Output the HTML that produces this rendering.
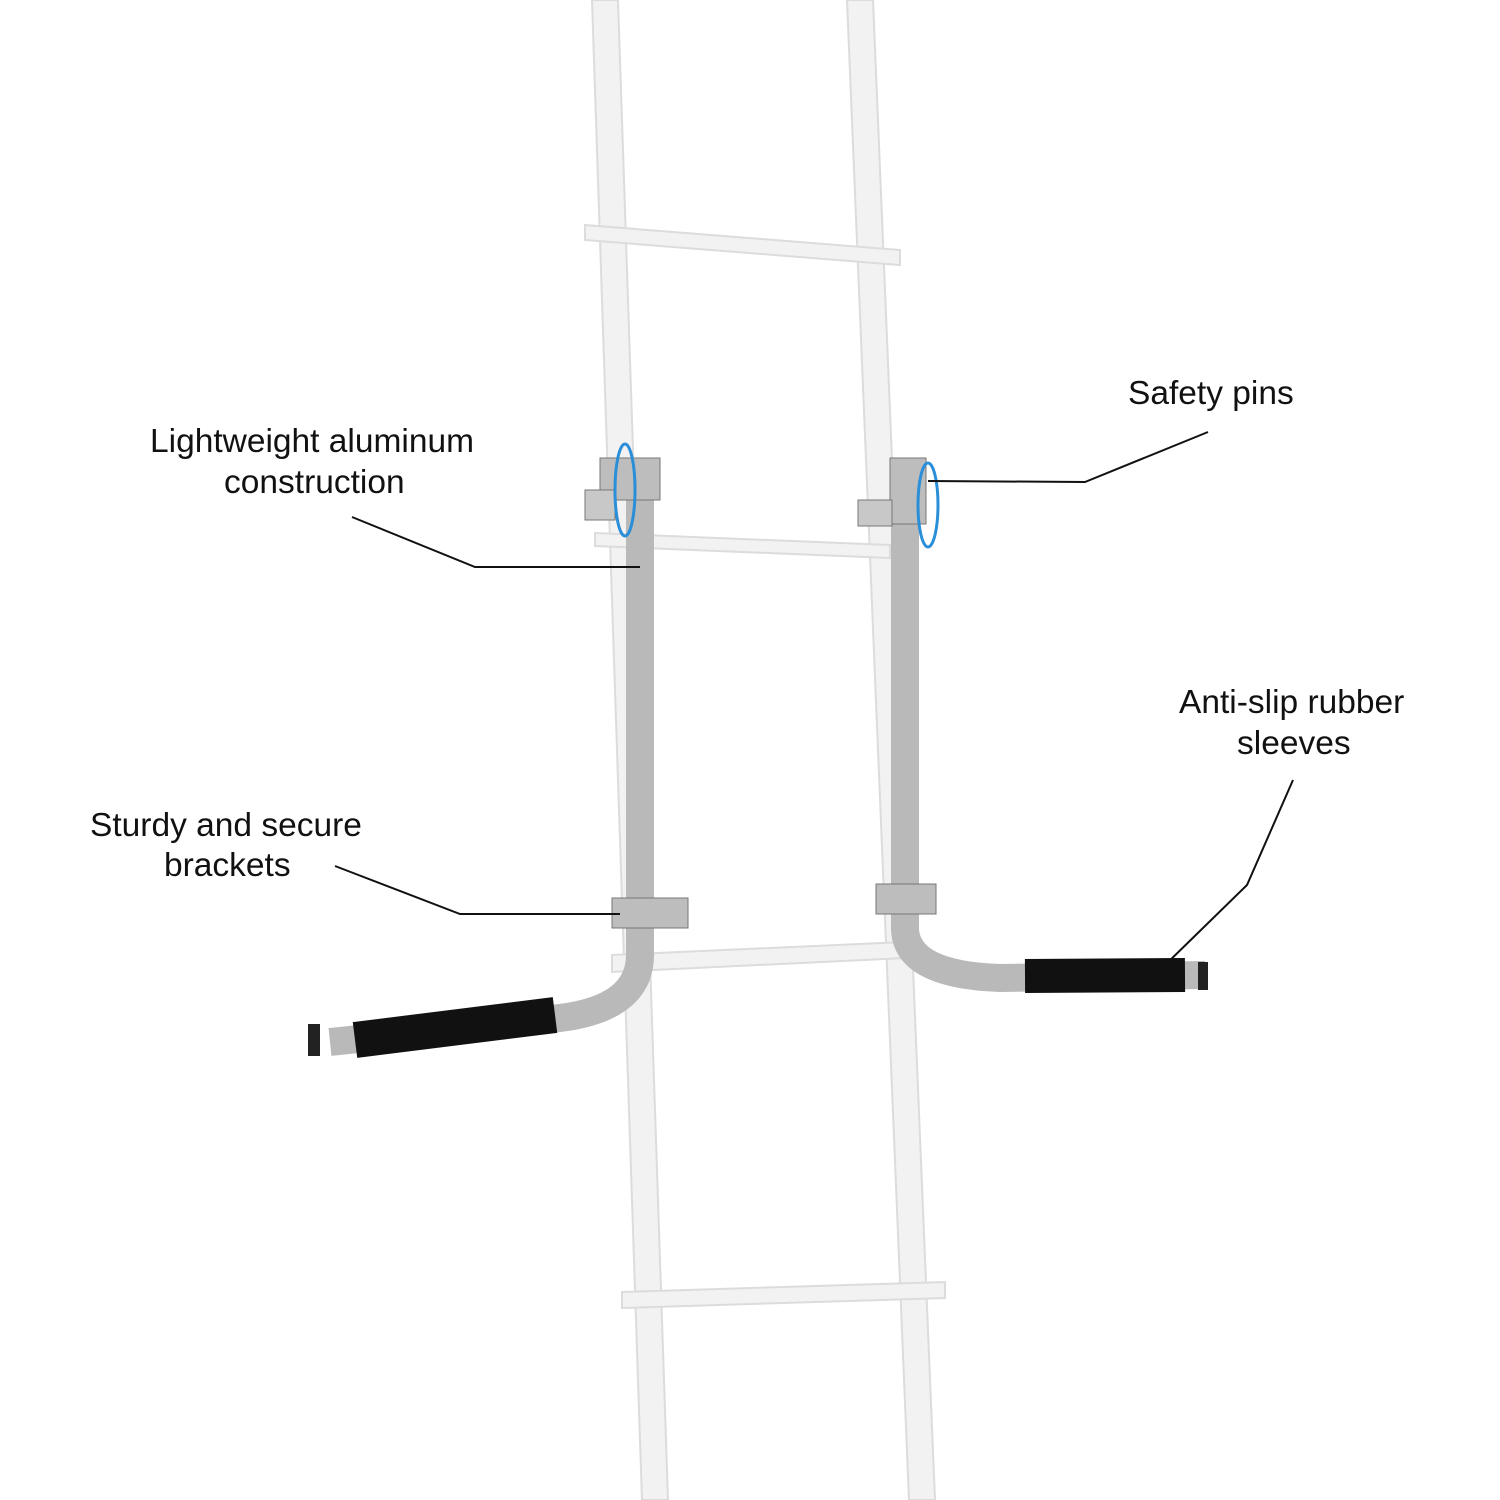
<!DOCTYPE html>
<html><head><meta charset="utf-8"><style>
html,body{margin:0;padding:0;background:#fff}
svg{display:block}
text{font-family:"Liberation Sans",sans-serif;font-size:33.5px;fill:#111}
</style></head><body>
<svg width="1500" height="1500" viewBox="0 0 1500 1500">
<defs>
<linearGradient id="pole" x1="0" x2="1" y1="0" y2="0">
<stop offset="0" stop-color="#8e8e8e"/><stop offset="0.4" stop-color="#d4d4d4"/><stop offset="1" stop-color="#9a9a9a"/>
</linearGradient>
</defs>
<!-- ladder -->
<g fill="#f2f2f2" stroke="#dcdcdc" stroke-width="2">
<polygon points="592,0 618,0 668,1500 642,1500"/>
<polygon points="847,0 873,0 935,1500 909,1500"/>
<polygon points="585,225 900,250 900,265 585,240"/>
<polygon points="595,533 890,545 890,558 595,546"/>
<polygon points="612,955 905,942 905,958 612,972"/>
<polygon points="622,1292 945,1282 945,1298 622,1308"/>
</g>
<!-- left bracket -->
<path d="M640,470 L640,955 Q640,1008 560,1018 L330,1042" fill="none" stroke="#b9b9b9" stroke-width="28"/>
<path d="M640,470 L640,950" stroke="url(#pole)" stroke-width="28"/>
<path d="M355,1040 L555,1015" stroke="#111" stroke-width="36"/>
<rect x="308" y="1024" width="12" height="32" fill="#222"/>
<rect x="600" y="458" width="60" height="42" fill="#bdbdbd" stroke="#777"/>
<rect x="585" y="490" width="30" height="30" fill="#c8c8c8" stroke="#777"/>
<rect x="612" y="898" width="76" height="30" fill="#bdbdbd" stroke="#777"/>
<ellipse cx="625" cy="490" rx="10" ry="46" fill="none" stroke="#2a8fd8" stroke-width="3"/>
<!-- right bracket -->
<path d="M905,470 L905,930 Q908,975 1000,978 L1205,975" fill="none" stroke="#b9b9b9" stroke-width="28"/>
<path d="M905,470 L905,930" stroke="url(#pole)" stroke-width="28"/>
<path d="M1025,976 L1185,975" stroke="#111" stroke-width="34"/>
<rect x="1198" y="962" width="10" height="28" fill="#222"/>
<rect x="890" y="458" width="36" height="66" fill="#bdbdbd" stroke="#777"/>
<rect x="858" y="500" width="34" height="26" fill="#c8c8c8" stroke="#777"/>
<rect x="876" y="884" width="60" height="30" fill="#bdbdbd" stroke="#777"/>
<ellipse cx="928" cy="505" rx="10" ry="42" fill="none" stroke="#2a8fd8" stroke-width="3"/>
<!-- leader lines -->
<g stroke="#111" stroke-width="2" fill="none">
<polyline points="352,517 475,567 640,567"/>
<polyline points="1208,432 1085,482 928,481"/>
<polyline points="335,866 460,914 620,914"/>
<polyline points="1293,780 1247,885 1160,970"/>
</g>
<text x="150" y="452">Lightweight aluminum</text>
<text x="224" y="493">construction</text>
<text x="1128" y="404">Safety pins</text>
<text x="1179" y="713">Anti-slip rubber</text>
<text x="1237" y="754">sleeves</text>
<text x="90" y="836">Sturdy and secure</text>
<text x="164" y="876">brackets</text>
</svg>
</body></html>
